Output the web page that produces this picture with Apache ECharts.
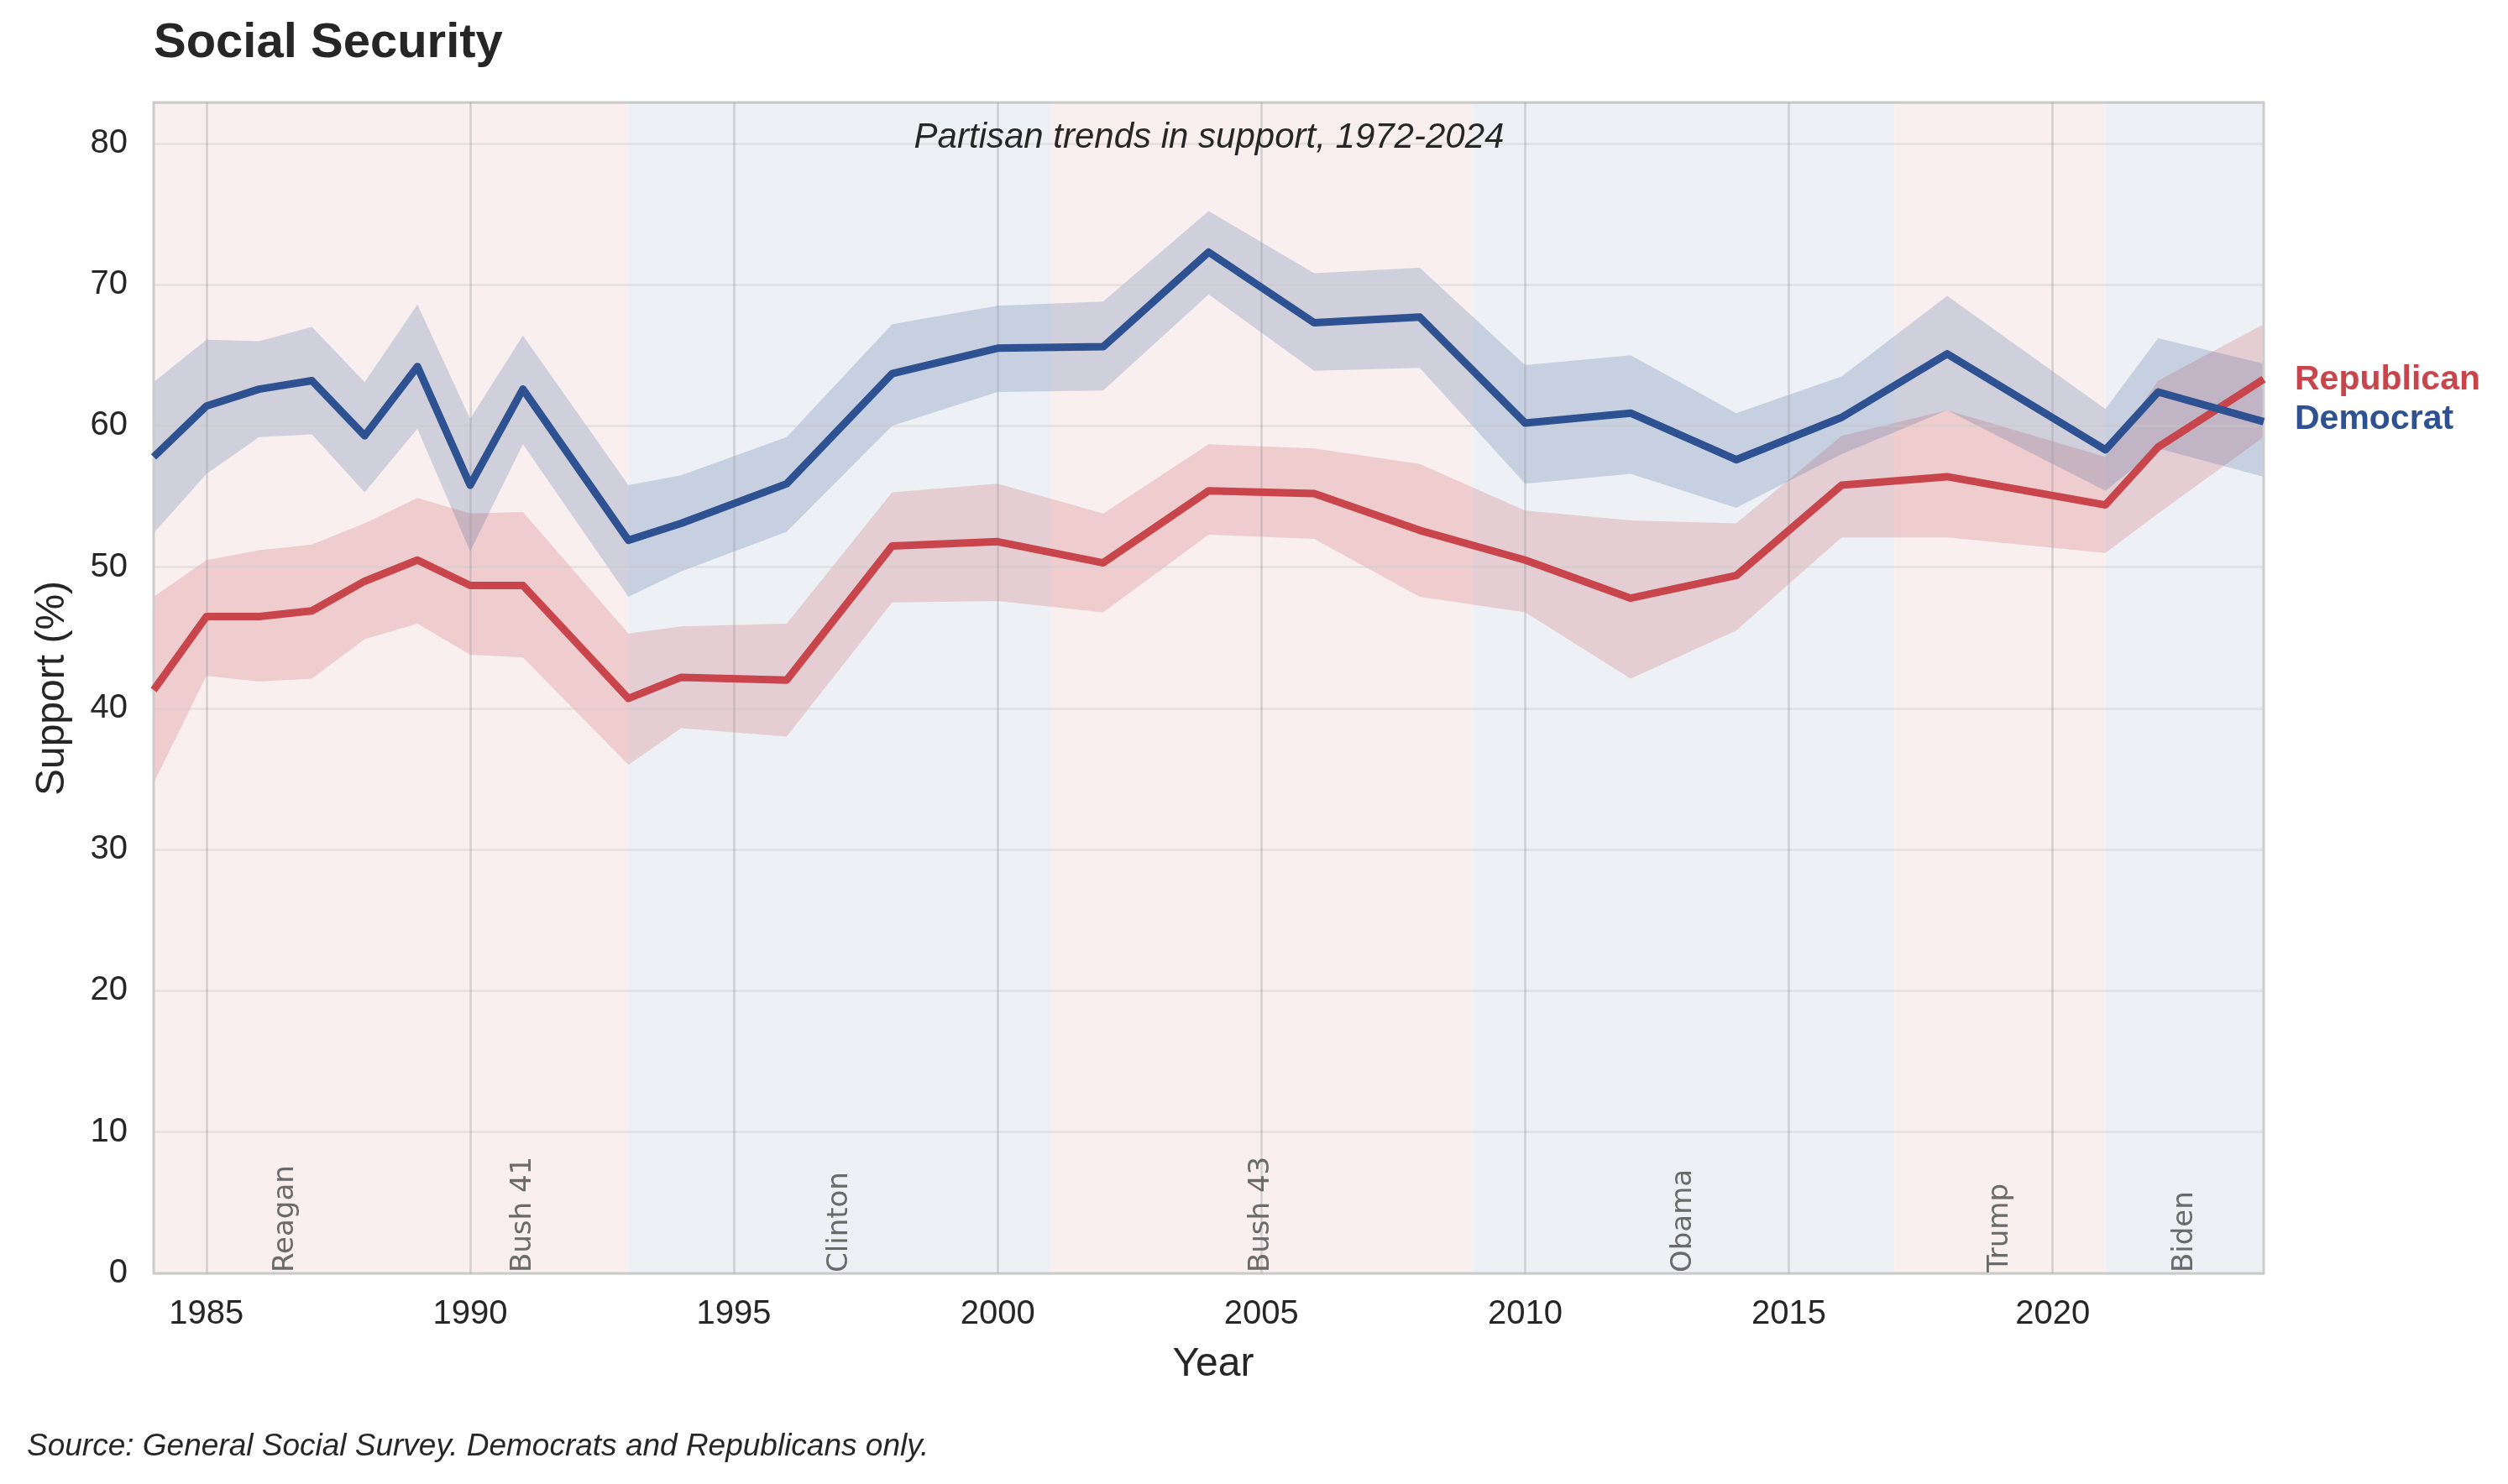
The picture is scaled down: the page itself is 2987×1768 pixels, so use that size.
<!DOCTYPE html>
<html><head><meta charset="utf-8">
<script src="https://cdn.jsdelivr.net/npm/echarts@6/dist/echarts.min.js"></script>
<style>html,body{margin:0;padding:0;background:#fff}#c{width:2987px;height:1768px}</style>
</head><body><div id="c"></div>
<script>
// ---- data ----
const years = [1984,1985,1986,1987,1988,1989,1990,1991,1993,1994,1996,1998,2000,2002,2004,2006,2008,2010,2012,2014,2016,2018,2021,2022,2024];
const dem   = [57.8,61.4,62.6,63.2,59.3,64.2,55.8,62.6,51.9,53.1,55.9,63.7,65.5,65.6,72.3,67.3,67.7,60.2,60.9,57.6,60.6,65.1,58.3,62.4,60.3];
const demLo = [52.4,56.6,59.2,59.4,55.3,59.8,51.1,58.7,47.9,49.7,52.5,60.0,62.4,62.5,69.3,63.9,64.1,55.9,56.6,54.2,58.0,61.1,55.4,58.4,56.4];
const demHi = [63.1,66.1,66.0,67.0,63.1,68.6,60.5,66.4,55.8,56.5,59.2,67.2,68.5,68.8,75.2,70.8,71.2,64.3,65.0,60.9,63.5,69.2,61.2,66.2,64.4];
const rep   = [41.3,46.5,46.5,46.9,49.0,50.5,48.7,48.7,40.7,42.2,42.0,51.5,51.8,50.3,55.4,55.2,52.6,50.5,47.8,49.4,55.8,56.4,54.4,58.5,63.3];
const repLo = [34.7,42.3,41.9,42.1,44.9,46.0,43.8,43.6,36.0,38.6,38.0,47.5,47.6,46.8,52.3,52.0,47.9,46.8,42.1,45.5,52.1,52.1,51.0,53.8,59.2];
const repHi = [47.9,50.5,51.2,51.6,53.1,54.9,53.8,53.9,45.3,45.8,46.0,55.3,55.9,53.8,58.7,58.4,57.3,54.0,53.3,53.1,59.3,61.1,57.8,63.2,67.2];
const presNames = ['Reagan','Bush 41','Clinton','Bush 43','Obama','Trump','Biden'];
const presStart = [1981,1989,1993,2001,2009,2017,2021];
const presEnd   = [1989,1993,2001,2009,2017,2021,2025];
const presParty = ['R','R','D','R','D','R','D'];
const xTicks = [1985,1990,1995,2000,2005,2010,2015,2020];
const xMin = 1984, xMax = 2024, yMin = 0, yMax = 82.9;

// ---- styles ----
const RED = '#C8454B', BLUE = '#2D5191';
const FONT = 'Liberation Sans, Arial, Helvetica, sans-serif';
const TXT = '#262626';

const presData = presNames.map((n,i)=>{
  const s = Math.max(presStart[i], xMin), e = Math.min(presEnd[i], xMax);
  return [s, e, (s+e)/2, i];
});

function bandSeries(lo, hi, color, name){
  return {
    type:'custom', name, z:2, silent:true,
    data:[[years[0], lo[0]]],
    renderItem:function(params, api){
      const pts = [];
      for(let i=0;i<years.length;i++) pts.push(api.coord([years[i], hi[i]]));
      for(let i=years.length-1;i>=0;i--) pts.push(api.coord([years[i], lo[i]]));
      return {type:'polygon', shape:{points:pts}, style:{fill:color}};
    }
  };
}

const chart = echarts.init(document.getElementById('c'));
chart.setOption({
  animation:false,
  backgroundColor:'#ffffff',
  textStyle:{fontFamily:FONT},
  grid:{left:183, right:291, top:122, bottom:251, show:true, borderColor:'#cccccc', borderWidth:3, backgroundColor:'transparent', z:3},
  xAxis:{
    type:'value', min:xMin, max:xMax, z:3,
    axisLine:{show:false},
    axisTick:{show:false, customValues:xTicks},
    axisLabel:{customValues:xTicks, fontSize:40, color:TXT, margin:29, fontFamily:FONT, formatter:v=>String(v)},
    splitLine:{show:true, lineStyle:{color:'rgba(160,160,165,0.42)', width:2.5}}
  },
  yAxis:{
    type:'value', min:yMin, max:yMax, interval:10, z:3,
    axisLine:{show:false}, axisTick:{show:false},
    axisLabel:{fontSize:40, color:TXT, margin:31, fontFamily:FONT, showMaxLabel:false},
    splitLine:{show:true, lineStyle:{color:'rgba(200,200,200,0.35)', width:3}}
  },
  graphic:[
    {type:'text', x:183, y:52, style:{text:'Social Security', font:'bold 58px '+FONT, fill:TXT, align:'left', verticalAlign:'middle'}, z:10},
    {type:'text', x:1440, y:164, style:{text:'Partisan trends in support, 1972-2024', font:'italic 42px '+FONT, fill:TXT, align:'center', verticalAlign:'middle'}, z:10},
    {type:'text', x:1445, y:1626, style:{text:'Year', font:'48px '+FONT, fill:TXT, align:'center', verticalAlign:'middle'}, z:10},
    {type:'text', x:63, y:820, rotation:Math.PI/2, style:{text:'Support (%)', font:'48px '+FONT, fill:TXT, align:'center', verticalAlign:'middle'}, z:10},
    {type:'text', x:32, y:1724, style:{text:'Source: General Social Survey. Democrats and Republicans only.', font:'italic 37px '+FONT, fill:TXT, align:'left', verticalAlign:'middle'}, z:10}
  ],
  series:[
    {
      type:'custom', name:'presBg', z:1, silent:true, clip:true,
      data:presData,
      renderItem:function(params, api){
        const p0 = api.coord([api.value(0), yMax]);
        const p1 = api.coord([api.value(1), yMin]);
        const party = presParty[api.value(3)];
        return {type:'rect', shape:{x:p0[0], y:p0[1], width:p1[0]-p0[0], height:p1[1]-p0[1]},
          style:{fill: party==='R' ? '#f9efef' : '#edf0f5'}};
      }
    },
    bandSeries(repLo, repHi, 'rgba(200,69,75,0.2)', 'repBand'),
    bandSeries(demLo, demHi, 'rgba(45,81,145,0.2)', 'demBand'),
    {
      type:'line', name:'Republican', z:4, symbol:'none', silent:true,
      data:years.map((y,i)=>[y, rep[i]]),
      lineStyle:{color:RED, width:9, join:'round'},
      endLabel:{show:true, formatter:'Republican', color:RED, fontSize:41, fontWeight:'bold', fontFamily:FONT, distance:37, offset:[0,1]}
    },
    {
      type:'line', name:'Democrat', z:4, symbol:'none', silent:true,
      data:years.map((y,i)=>[y, dem[i]]),
      lineStyle:{color:BLUE, width:9, join:'round'},
      endLabel:{show:true, formatter:'Democrat', color:BLUE, fontSize:41, fontWeight:'bold', fontFamily:FONT, distance:37, offset:[0,-3]}
    },
    {
      type:'custom', name:'presLabels', z:5, silent:true,
      data:presData,
      renderItem:function(params, api){
        const p = api.coord([api.value(2), yMin]);
        return {type:'text', x:p[0], y:p[1]-1, rotation:Math.PI/2,
          style:{text:presNames[api.value(3)], font:'34px DejaVu Sans', fill:'#6a6a6a', align:'left', verticalAlign:'middle'}};
      }
    }
  ]
});
</script></body></html>
